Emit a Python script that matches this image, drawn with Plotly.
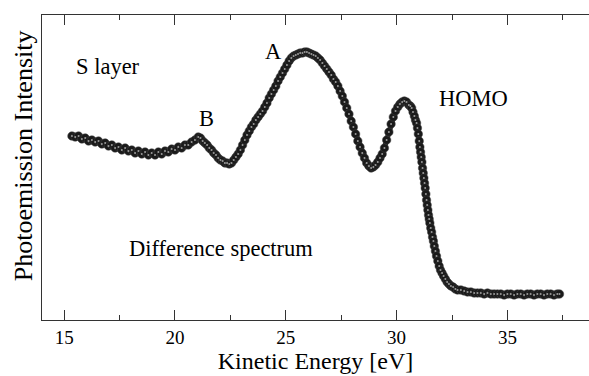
import plotly.graph_objects as go

# Kinetic energy [eV] and photoemission intensity (arbitrary units)
energy = [
    15.35, 15.50, 15.65, 15.80, 15.95, 16.10, 16.25, 16.40, 16.55, 16.70,
    16.85, 17.00, 17.15, 17.30, 17.45, 17.60, 17.75, 17.90, 18.05, 18.20,
    18.35, 18.50, 18.65, 18.80, 18.95, 19.10, 19.25, 19.40, 19.55, 19.70,
    19.85, 20.00, 20.15, 20.30, 20.45, 20.60, 20.75, 20.90, 21.05, 21.15,
    21.25, 21.35, 21.45, 21.55, 21.65, 21.75, 21.85, 21.95, 22.05, 22.15,
    22.25, 22.35, 22.45, 22.55, 22.65, 22.75, 22.85, 22.95,
    23.05, 23.15, 23.25, 23.35, 23.45, 23.55, 23.65, 23.75, 23.85, 23.95,
    24.05, 24.15, 24.25, 24.35, 24.45, 24.55, 24.65, 24.75, 24.85, 24.95,
    25.05, 25.15, 25.25, 25.35, 25.45, 25.55, 25.65, 25.75, 25.85, 25.95,
    26.05, 26.15, 26.25, 26.35, 26.45, 26.55, 26.65, 26.75, 26.85, 26.95,
    27.05, 27.15, 27.25, 27.35, 27.45, 27.55, 27.65, 27.75, 27.85, 27.95,
    28.05, 28.15, 28.25, 28.35, 28.45, 28.55, 28.65, 28.75, 28.85, 28.95,
    29.05, 29.15, 29.25, 29.35, 29.45, 29.55, 29.65, 29.75, 29.85, 29.95,
    30.05, 30.15, 30.25, 30.35, 30.45, 30.55,
    30.62, 30.68, 30.74, 30.80, 30.85, 30.90, 30.94, 30.98, 31.02, 31.05,
    31.08, 31.11, 31.14, 31.17, 31.20, 31.23, 31.26, 31.29, 31.32, 31.35,
    31.38, 31.41, 31.44, 31.47, 31.50, 31.54, 31.58, 31.62, 31.66, 31.70,
    31.75, 31.80, 31.86, 31.92, 31.98, 32.05, 32.12, 32.20, 32.28, 32.36,
    32.45, 32.55, 32.65, 32.75,
    32.90, 33.05, 33.20, 33.35, 33.50, 33.65, 33.80, 33.95, 34.10, 34.25,
    34.40, 34.55, 34.70, 34.85, 35.00, 35.15, 35.30, 35.45, 35.60, 35.75,
    35.90, 36.05, 36.20, 36.35, 36.50, 36.65, 36.80, 36.95, 37.10, 37.25,
    37.35,
]
intensity = [
    184, 183, 184, 181, 182, 179, 180, 178, 179, 176,
    177, 174, 175, 172, 173, 170, 172, 169, 170, 167,
    169, 166, 168, 165, 167, 165, 168, 166, 169, 168,
    171, 170, 173, 172, 175, 175, 178, 180, 183, 182,
    179, 177, 175, 172, 170, 167, 165, 162, 160, 159,
    157, 157, 156, 157, 160, 163, 166, 170,
    175, 180, 185, 189, 193, 196, 200, 203, 206, 209,
    213, 217, 222, 226, 230, 234, 239, 243, 247, 251,
    255, 259, 262, 264, 265, 266, 267, 267, 268, 268,
    267, 266, 265, 264, 262, 260, 257, 254, 251, 248,
    245, 241, 238, 234, 229, 224, 218, 212, 206, 199,
    193, 186, 179, 173, 167, 162, 157, 154, 152, 153,
    155, 158, 162, 166, 172, 180, 188, 196, 203, 209,
    213, 216, 218, 219, 218, 215,
    214, 212, 208, 204, 200, 197, 192, 186, 179, 173,
    168, 163, 158, 152, 147, 142, 137, 132, 126, 120,
    115, 110, 105, 101, 97, 92, 88, 83, 79, 74,
    69, 64, 59, 54, 50, 47, 44, 41, 38, 36,
    34, 33, 31, 30,
    30, 29, 28, 28, 27, 27, 27, 26, 27, 26,
    26, 26, 26, 25, 26, 26, 25, 26, 26, 25,
    26, 26, 25, 26, 26, 25, 26, 26, 25, 26,
    26,
]

x_ticks = [15, 20, 25, 30, 35]

labels = ["S layer", "A", "B", "HOMO", "Difference spectrum"]
label_x = [16.96, 24.46, 21.43, 33.49, 22.06]
label_y = [254, 269, 202, 222, 72]

serif = "Liberation Serif"

fig = go.Figure()
fig.add_trace(go.Scatter(
    x=energy, y=intensity, mode="lines",
    line=dict(width=5, color="#1c1c1c"),
    hoverinfo="skip", showlegend=False,
))
fig.add_trace(go.Scatter(
    x=energy, y=intensity, mode="markers",
    marker=dict(size=8.5, color="#1a1a1a", line=dict(width=0.5, color="#444")),
    hoverinfo="skip", showlegend=False,
))
fig.add_trace(go.Scatter(
    x=energy, y=intensity, mode="markers",
    marker=dict(size=2, color="#9a9a9a", line=dict(width=0)),
    hoverinfo="skip", showlegend=False,
))

for t, lx, ly in zip(labels, label_x, label_y):
    fig.add_annotation(x=lx, y=ly, xref="x", yref="y", text=t, showarrow=False,
                       xanchor="center", yanchor="middle",
                       font=dict(family=serif, size=22.5, color="black"))

# y-axis title placed as rotated text (slightly above plot centre, as in the reference)
fig.add_annotation(x=-0.035, y=0.54, xref="paper", yref="paper",
                   text="Photoemission Intensity", textangle=-90, showarrow=False,
                   xanchor="center", yanchor="middle",
                   font=dict(family=serif, size=26, color="black"))

fig.update_layout(
    width=589, height=376,
    margin=dict(l=42, r=0, t=15, b=56),
    paper_bgcolor="white", plot_bgcolor="white",
    font=dict(family=serif, color="black"),
    xaxis=dict(
        range=[14, 38.68], tickvals=x_ticks, ticks="inside", ticklen=10,
        tickcolor="#333", tickwidth=1,
        minor=dict(dtick=2.5, tick0=15, ticks="inside", ticklen=5, tickcolor="#333", tickwidth=1),
        showline=True, linecolor="#333", linewidth=1, mirror="ticks",
        showgrid=False, zeroline=False,
        tickfont=dict(family=serif, size=19, color="black"),
        title=dict(text="Kinetic Energy [eV]", font=dict(family=serif, size=24, color="black"), standoff=3),
    ),
    yaxis=dict(
        range=[0, 305], showticklabels=False, ticks="",
        showline=True, linecolor="#333", linewidth=1, mirror=False,
        showgrid=False, zeroline=False,
    ),
)

fig.write_html("out.html")
